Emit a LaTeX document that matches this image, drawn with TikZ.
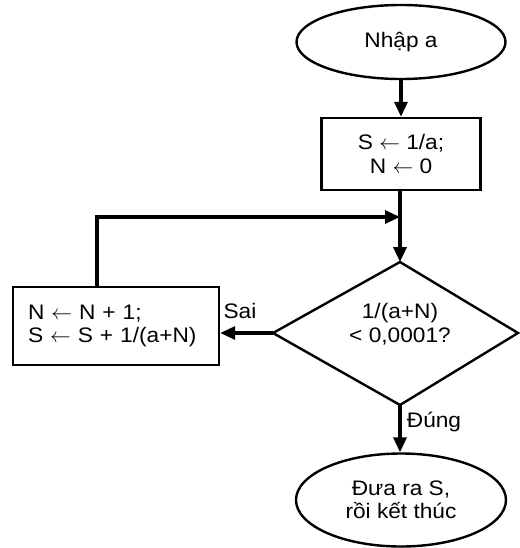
\documentclass[tikz,border=0pt]{standalone}
\usepackage{fontspec}
\setmainfont{Liberation Sans}[FakeStretch=1.08]
\usetikzlibrary{arrows.meta,shapes.geometric}
\newcommand\larr{\ensuremath{\leftarrow}}
\begin{document}
\begin{tikzpicture}[x=1pt,y=-1pt,
  every node/.style={font=\fontsize{21}{23.5}\selectfont},
  shp/.style={draw, line width=2.4pt, line join=miter},
  conn/.style={line width=3.2pt, line join=miter, -{Triangle[length=15pt,width=13pt]}}]
\useasboundingbox (0,0) rectangle (519,548);
% nodes
\node[shp, ellipse, minimum width=209, minimum height=74, inner sep=0pt] (start) at (401,42) {Nhập a};
\node[shp, rectangle, minimum width=159, minimum height=72, align=center] (init) at (401,154) {S \larr\ 1/a;\\N \larr\ 0};
\coordinate (dt) at (400,262);
\coordinate (dl) at (273,333);
\coordinate (dr) at (518,333);
\coordinate (db) at (400,405);
\draw[shp] (dt) -- (dr) -- (db) -- (dl) -- cycle;
\node[align=center] (cond) at (400,324) {1/(a+N)\\< 0,0001?};
\node[shp, rectangle, minimum width=206, minimum height=78, text width=176, inner xsep=15pt, align=left] (upd) at (116,326) {N \larr\ N + 1;\\S \larr\ S + 1/(a+N)};
\node[shp, ellipse, minimum width=210, minimum height=93, inner sep=0pt, align=center] (end) at (401,500) {Đưa ra S,\\rồi kết thúc};
\coordinate (j) at (400,217);
\coordinate (lp) at (97,217);
% connectors
\draw[conn] (start) -- (start |- init.north);
\draw[conn] (init.south -| dt) -- (dt);
\draw[conn] (upd.north -| lp) -- (lp) -- (j);
\draw[conn] (dl) -- (upd.east |- dl);
\node (sai) at (240,311) {Sai};
\draw[conn] (db) -- (db |- end.north);
\node (dung) at (434,422) {Đúng};
\end{tikzpicture}
\end{document}
